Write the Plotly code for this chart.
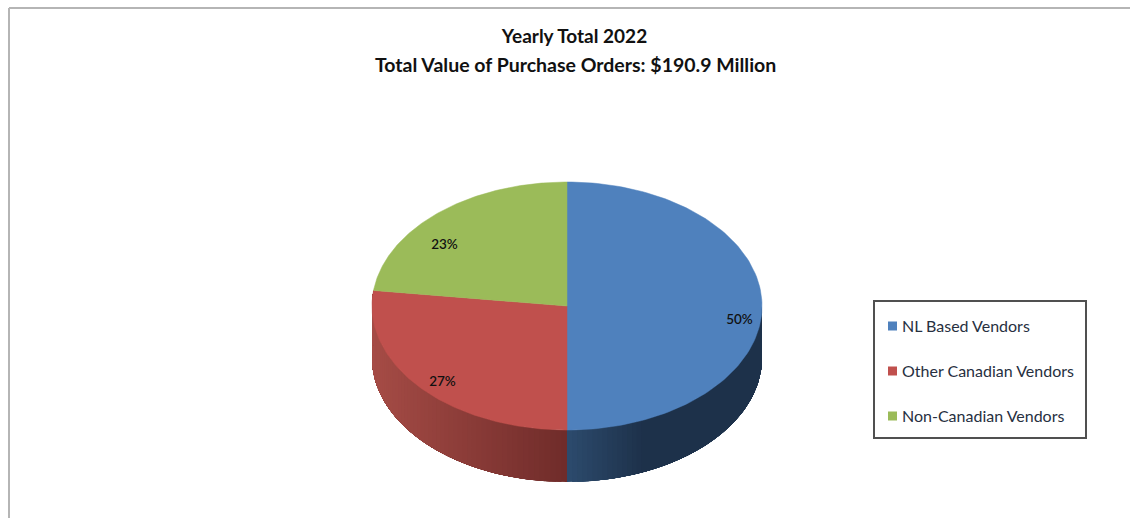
import math
import plotly.graph_objects as go

categories = ["NL Based Vendors", "Other Canadian Vendors", "Non-Canadian Vendors"]
values = [50, 27, 23]
labels = ["50%", "27%", "23%"]
colors = ["#4F81BD", "#C0504D", "#9BBB59"]
label_x = [739.5, 442.5, 444.5]
label_y = [321, 383, 246]
legend_y = [326, 371, 416]

W, H = 1130, 518
CX, CY, RX, RY, DEPTH = 567, 306, 195, 124, 52
FONT = "Lato"


def pt(a, dy=0):
    """Clockwise angle from 12 o'clock (degrees) to pixel position on the ellipse."""
    r = math.radians(a)
    return CX + RX * math.sin(r), CY - RY * math.cos(r) + dy


def arc(a0, a1, dy=0, n=120):
    return [pt(a0 + (a1 - a0) * i / n, dy) for i in range(n + 1)]


def mix(c0, c1, t):
    t = max(0, min(1, t))
    return "rgb(%d,%d,%d)" % tuple(round(c0[i] + (c1[i] - c0[i]) * t) for i in range(3))


fig = go.Figure()

# slice angles from the values
total = sum(values)
start = 0
bounds = []
for v in values:
    bounds.append((start, start + v / total * 360))
    start += v / total * 360

# side wall: painter-style strips, each reaching to the far end, so no seams show
side_shades = [
    ((44, 74, 108), (29, 49, 74), 0.38),
    ((112, 44, 42), (166, 76, 70), 1.0),
]
for idx, (a0, a1) in enumerate(bounds[:2]):
    c0, c1, span = side_shades[idx]
    v0 = max(a0, 90)
    v1 = a1
    steps = 60
    for s in range(steps):
        # walk from the front centre outwards
        if idx == 0:
            b0 = v1 - (v1 - v0) * s / steps
            far = v0
        else:
            b0 = v0 + (v1 - v0) * s / steps
            far = v1
        xm = abs(pt(b0)[0] - CX) / RX
        if idx == 0 and xm > span * 1.05 and s > 0:
            break
        poly = arc(b0, far, 0, 60) + arc(far, b0, DEPTH, 60)
        col = mix(c0, c1, xm / span)
        fig.add_trace(go.Scatter(
            x=[p[0] for p in poly] + [poly[0][0]],
            y=[p[1] for p in poly] + [poly[0][1]],
            mode="lines", fill="toself", fillcolor=col,
            line=dict(width=0), hoverinfo="skip", showlegend=False))

# top faces
for (a0, a1), col, name in zip(bounds, colors, categories):
    poly = [(CX, CY)] + arc(a0, a1)
    fig.add_trace(go.Scatter(
        x=[p[0] for p in poly] + [CX], y=[p[1] for p in poly] + [CY],
        mode="lines", fill="toself", fillcolor=col,
        line=dict(width=0.5, color=col), name=name, showlegend=False, hoverinfo="name"))

# legend swatches
fig.add_trace(go.Scatter(
    x=[892.5] * 3, y=legend_y, mode="markers", showlegend=False, hoverinfo="skip",
    marker=dict(symbol="square", size=9, color=colors, line=dict(width=0))))

# slice labels
fig.add_trace(go.Scatter(
    x=label_x, y=label_y, mode="text", text=labels, showlegend=False, hoverinfo="skip",
    textposition="middle center",
    textfont=dict(family=FONT, size=13.5, color="#111111", weight=600)))

legend_notes = [dict(text=name, xref="x", yref="y", x=900, y=ly - 1, xanchor="left", yanchor="middle",
                     showarrow=False, font=dict(family=FONT, size=16, color="#27303F"))
                for name, ly in zip(categories, legend_y)]

fig.update_layout(
    width=W, height=H, margin=dict(l=0, r=0, t=0, b=0), showlegend=False,
    paper_bgcolor="white", plot_bgcolor="white",
    xaxis=dict(range=[0, W], visible=False, fixedrange=True),
    yaxis=dict(range=[H, 0], visible=False, fixedrange=True),
    title=dict(text="<b>Yearly Total 2022</b>", x=574.5 / W, xanchor="center",
               y=1 - 36 / H, yanchor="middle",
               font=dict(family=FONT, size=19, color="#111111")),
    annotations=[dict(text="<b>Total Value of Purchase Orders: $190.9 Million</b>",
                      xref="x", yref="y", x=575.5, y=64, showarrow=False,
                      font=dict(family=FONT, size=19.5, color="#111111"))] + legend_notes,
    shapes=[
        dict(type="line", xref="x", yref="y", x0=9, x1=9, y0=8, y1=H,
             line=dict(color="#B5B5B5", width=2)),
        dict(type="line", xref="x", yref="y", x0=9, x1=W, y0=8, y1=8,
             line=dict(color="#B5B5B5", width=2)),
        dict(type="rect", xref="x", yref="y", x0=874, x1=1086, y0=301, y1=438,
             fillcolor="white", line=dict(color="#505050", width=2), layer="below"),
    ],
)

fig.write_html("out.html", config={"displayModeBar": False},
               post_script="document.body.style.margin='0';document.body.style.overflow='hidden';")
